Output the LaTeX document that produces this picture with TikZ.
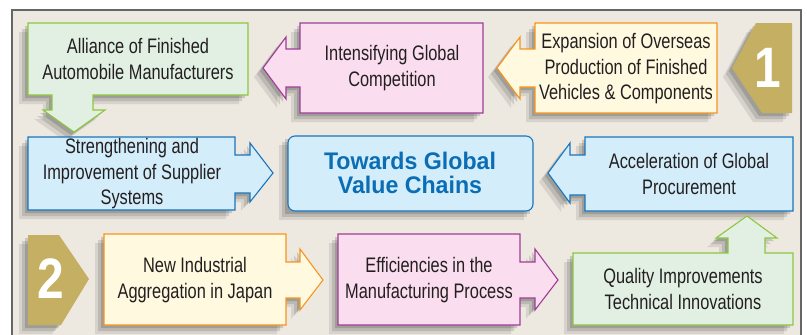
\documentclass[tikz,border=0pt]{standalone}
\usepackage{fontspec}
\setmainfont{Liberation Sans}[FakeStretch=0.78]
\newfontfamily\titlefont{Liberation Sans}[FakeStretch=0.965]
\newfontfamily\numfont{Liberation Sans}[FakeStretch=0.84]

\definecolor{paper}{HTML}{EDE9E1}
\definecolor{framegray}{HTML}{666666}
\definecolor{greenfill}{HTML}{E2F0E3}
\definecolor{greenline}{HTML}{8DC63F}
\definecolor{pinkfill}{HTML}{FADDEE}
\definecolor{pinkline}{HTML}{9E3D97}
\definecolor{yellowfill}{HTML}{FEF9DF}
\definecolor{yellowline}{HTML}{F7941D}
\definecolor{bluefill}{HTML}{D3EDFA}
\definecolor{blueline}{HTML}{1B75BC}
\definecolor{gold}{HTML}{C4AF62}
\definecolor{titleblue}{HTML}{0B6EB5}
\definecolor{ink}{HTML}{231F20}

% soft shadow falling to the lower left of a closed path
\newcommand\castshadow[1]{%
  \foreach \d/\o in {9/0.09,6/0.12,3/0.15}{%
    \fill[black,opacity=\o,shift={(-\d,\d)}] #1;}%
}
% shadow, then the outlined shape itself
\newcommand\panel[2]{\castshadow{#2}\filldraw[#1] #2;}

\tikzset{
  greenbox/.style={fill=greenfill,draw=greenline,line width=1.1pt,line join=miter},
  pinkbox/.style={fill=pinkfill,draw=pinkline,line width=1.1pt,line join=miter},
  yellowbox/.style={fill=yellowfill,draw=yellowline,line width=1.1pt,line join=miter},
  bluebox/.style={fill=bluefill,draw=blueline,line width=1.1pt,line join=miter},
  badge/.style={fill=gold,draw=none},
  label/.style={text=ink,align=center,inner sep=0pt,
    font=\fontsize{21}{25.5}\selectfont},
  title/.style={text=titleblue,align=center,inner sep=0pt,
    font=\titlefont\bfseries\fontsize{24}{24}\selectfont},
  number/.style={text=white,inner sep=0pt,
    font=\numfont\bfseries\fontsize{57}{57}\selectfont},
}

\begin{document}
\begin{tikzpicture}[x=1pt,y=-1pt]
\useasboundingbox (0,0) rectangle (807,335);
\clip (0,0) rectangle (807,335);

% panel background and frame
\fill[paper] (12,10) rectangle (801,345);
\draw[framegray,line width=1.5pt] (12,10) rectangle (801,345);

% top row
\panel{greenbox}{(28,23) -- (248,23) -- (248,95) -- (93,95) -- (93,110) -- (105,110)
  -- (74,132) -- (43,110) -- (52,110) -- (52,95) -- (28,95) -- cycle}
\panel{pinkbox}{(300,23) -- (483,23) -- (483,113) -- (300,113) -- (300,87) -- (286,87)
  -- (286,99) -- (263,68) -- (286,37) -- (286,49) -- (300,49) -- cycle}
\panel{yellowbox}{(535,23) -- (717,23) -- (717,113) -- (535,113) -- (535,87) -- (520,87)
  -- (520,99) -- (497,68) -- (520,37) -- (520,49) -- (535,49) -- cycle}
\panel{badge}{(756,23) -- (792,23) -- (792,113) -- (762,113) -- (732,68) -- cycle}

% middle row
\panel{bluebox}{(28,137) -- (235,137) -- (235,155) -- (250,155) -- (250,143) -- (273,173)
  -- (250,202) -- (250,193) -- (235,193) -- (235,210) -- (28,210) -- cycle}
\panel{bluebox,rounded corners=7pt}{(288,136) rectangle (533,211)}
\panel{bluebox}{(585,137) -- (793,137) -- (793,211) -- (585,211) -- (585,195) -- (570,195)
  -- (570,203) -- (548,173) -- (570,143) -- (570,155) -- (585,155) -- cycle}

% bottom row
\panel{badge}{(28,235) -- (59,235) -- (89,279) -- (61,325) -- (28,325) -- cycle}
\panel{yellowbox}{(104,234) -- (286,234) -- (286,262) -- (300,262) -- (300,249) -- (323,280)
  -- (300,310) -- (300,298) -- (286,298) -- (286,325) -- (104,325) -- cycle}
\panel{pinkbox}{(338,234) -- (520,234) -- (520,262) -- (535,262) -- (535,249) -- (558,280)
  -- (535,310) -- (535,298) -- (520,298) -- (520,325) -- (338,325) -- cycle}
\panel{greenbox}{(573,253) -- (728,253) -- (728,238) -- (716,238) -- (747,216) -- (777,238)
  -- (765,238) -- (765,253) -- (793,253) -- (793,325) -- (573,325) -- cycle}

% texts
\node[label] (alliance) at (138,59) {Alliance of Finished\\Automobile Manufacturers};
\node[label] (competition) at (392,68) {Intensifying Global\\Competition};
\node[label] (expansion) at (626,69) {Expansion of Overseas\\Production of Finished\\Vehicles \& Components};
\node[number] (one) at (768,68) {1};

\node[label] (supplier) at (132,174) {Strengthening and\\Improvement of Supplier\\Systems};
\node[title] (goal) at (410,173) {Towards Global\\Value Chains};
\node[label] (procurement) at (689,174) {Acceleration of Global\\Procurement};

\node[number] (two) at (51,279) {2};
\node[label] (aggregation) at (195,280) {New Industrial\\Aggregation in Japan};
\node[label] (efficiency) at (429,280) {Efficiencies in the\\Manufacturing Process};
\node[label] (quality) at (683,289) {Quality Improvements\\Technical Innovations};
\end{tikzpicture}
\end{document}
